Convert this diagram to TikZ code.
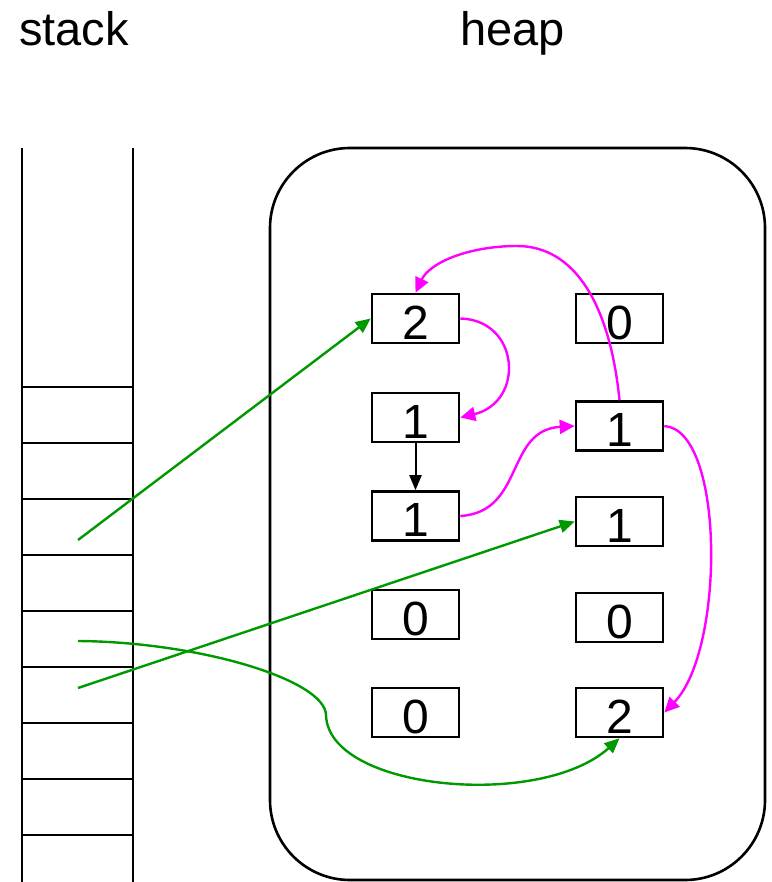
\documentclass[tikz,border=0pt]{standalone}
\usepackage{fontspec}
\setmainfont{Liberation Sans}
\usetikzlibrary{arrows.meta}
\definecolor{ptrgreen}{RGB}{0,153,0}
\definecolor{ptrmag}{RGB}{255,0,255}
\tikzset{
  cell/.style={draw, line width=2.6pt, minimum width=87pt, minimum height=49pt, inner sep=0pt},
  digit/.style={font=\fontsize{48}{52}\selectfont, inner sep=0pt},
  title/.style={font=\fontsize{47}{52}\selectfont, inner sep=0pt, anchor=base west},
  gptr/.style={draw=ptrgreen, line width=2.4pt, -{Triangle[length=15pt,width=13pt]}},
  mptr/.style={draw=ptrmag, line width=2.4pt, -{Triangle[length=15pt,width=14pt]}},
  bptr/.style={draw=black, line width=2pt, -{Triangle[length=15pt,width=12pt]}},
  frame/.style={draw=black, line width=2.6pt}
}
\begin{document}
\begin{tikzpicture}[x=1pt,y=-1pt]
\useasboundingbox (0,0) rectangle (771,882);
\fill[white] (0,0) rectangle (771,882);
% titles
\node[title] (tstack) at (19,46) {stack};
\node[title] (theap) at (460,46) {heap};
% stack
\begin{scope}
\clip (0,0) rectangle (771,882);
\draw[frame] (22,148) -- (22,890);
\draw[frame] (133,148) -- (133,890);
\foreach \yy in {387,443,499,555,611,667,723,779,835}
  \draw[frame] (22,\yy) -- (133,\yy);
% heap
\draw[frame, rounded corners=80pt] (270,148) rectangle (765,880);
\end{scope}
% cells left column
\node[cell] (L1) at (415.5,318.5) {};
\node[cell] (L2) at (415.5,417.5) {};
\node[cell] (L3) at (415.5,516) {};
\node[cell] (L4) at (415.5,614.5) {};
\node[cell] (L5) at (415.5,712.5) {};
% cells right column
\node[cell] (R1) at (619.5,318.5) {};
\node[cell] (R2) at (619.5,426) {};
\node[cell] (R3) at (619.5,521.5) {};
\node[cell] (R4) at (619.5,617.5) {};
\node[cell] (R5) at (619.5,712.5) {};
% digits
\node[digit] at ([yshift=-4pt]L1.center) {2};
\node[digit] at ([yshift=-4pt]L2.center) {1};
\node[digit] at ([yshift=-4pt]L3.center) {1};
\node[digit] at ([yshift=-4pt]L4.center) {0};
\node[digit] at ([yshift=-4pt]L5.center) {0};
\node[digit] at ([yshift=-4pt]R1.center) {0};
\node[digit] at ([yshift=-4pt]R2.center) {1};
\node[digit] at ([yshift=-4pt]R3.center) {1};
\node[digit] at ([yshift=-4pt]R4.center) {0};
\node[digit] at ([yshift=-4pt]R5.center) {2};
% stack slots
\coordinate (s1) at (78,540);
\coordinate (s2) at (78,641);
\coordinate (s3) at (78,688);
% green pointers
\draw[gptr] (s1) -- (L1.west);
\draw[gptr] (s3) -- (R3.west);
\draw[gptr] (s2) .. controls (200,642) and (325,680) .. (326,715)
   .. controls (328,790) and (540,810) .. (R5.south);
% black pointer
\draw[bptr] (L2.south) -- (L3.north);
% magenta pointers
\draw[mptr] (R2.north) .. controls (610,305) and (575,246) .. (517,246)
   .. controls (470,246) and (430,262) .. (L1.north);
\draw[mptr] (L1.east) .. controls (520,320) and (525,402) .. (L2.east);
\draw[mptr] (L3.east) .. controls (525,512) and (505,430) .. (R2.west);
\draw[mptr] (R2.east) .. controls (725,430) and (725,650) .. (R5.east);
\end{tikzpicture}
\end{document}
